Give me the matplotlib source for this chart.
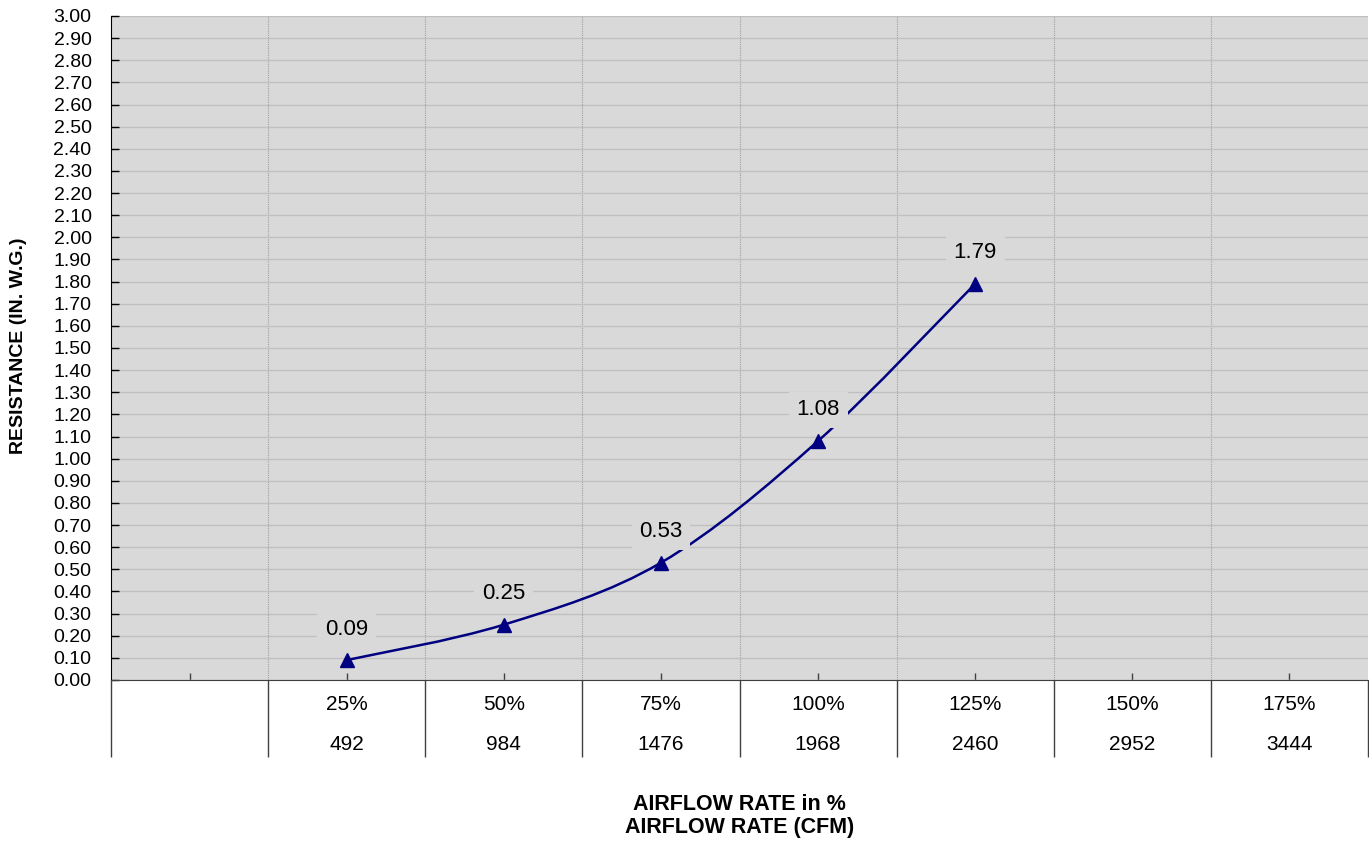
import numpy as np
import matplotlib.pyplot as plt
from matplotlib.path import Path
from matplotlib.patches import PathPatch

plt.rcParams['font.family'] = ['Liberation Sans', 'DejaVu Sans']

# -----------------------------------------------------------------------------
# dados
# -----------------------------------------------------------------------------
pct_labels = ['', '25%', '50%', '75%', '100%', '125%', '150%', '175%']
cfm_labels = ['', '492', '984', '1476', '1968', '2460', '2952', '3444']
point_idx = [1, 2, 3, 4, 5]
resistance = [0.09, 0.25, 0.53, 1.08, 1.79]

bg = '#d9d9d9'
navy = '#000080'

W, H = 1369, 844
fig = plt.figure(figsize=(W / 100, H / 100), dpi=100)
ax = fig.add_axes([111 / W, 1 - 680 / H, (1368 - 111) / W, (680 - 16) / H])
ax.set_facecolor(bg)

ax.set_xlim(-0.5, len(pct_labels) - 0.5)
ax.set_ylim(0, 3.0)

# eixo y
yt = np.round(np.arange(0, 3.001, 0.1), 2)
ax.set_yticks(yt)
ax.set_yticklabels([f'{v:.2f}' for v in yt], fontsize=14)
ax.tick_params(axis='y', direction='in', length=6, width=1, pad=14, colors='black')

# eixo x: ticks no centro, grade nas divisões
ax.set_xticks(np.arange(len(pct_labels)))
ax.set_xticklabels([])
ax.set_xticks(np.arange(0.5, len(pct_labels) - 0.5, 1), minor=True)
ax.tick_params(axis='x', which='major', direction='in', length=5, width=1, color='#404040')
ax.tick_params(axis='x', which='minor', length=0)

ax.grid(axis='y', which='major', color='#c0c0c0', linewidth=1.0)
ax.grid(axis='x', which='minor', color='#a0a0a0', linewidth=0.8, linestyle=(0, (1, 1)))
ax.set_axisbelow(True)

for s in ['top', 'right']:
    ax.spines[s].set_visible(False)
ax.spines['left'].set_color('black')
ax.spines['bottom'].set_color('#404040')

# linha suavizada (Bezier estilo Excel) pelos pontos
pts = np.column_stack([point_idx, resistance]).astype(float)
verts = [pts[0]]
codes = [Path.MOVETO]
n = len(pts)
for i in range(n - 1):
    p0 = pts[i - 1] if i > 0 else pts[i]
    p1 = pts[i]
    p2 = pts[i + 1]
    p3 = pts[i + 2] if i + 2 < n else pts[i + 1]
    c1 = p1 + (p2 - p0) / 6.0
    c2 = p2 - (p3 - p1) / 6.0
    verts += [c1, c2, p2]
    codes += [Path.CURVE4] * 3
ax.add_patch(PathPatch(Path(verts, codes), fill=False, edgecolor=navy,
                       linewidth=1.8, zorder=3))
ax.plot(point_idx, resistance, linestyle='none', marker='^', markersize=10.5,
        color=navy, zorder=4)

# rótulos de dados
for x, v in zip(point_idx, resistance):
    ax.annotate(f'{v:.2f}', (x, v), xytext=(0, 31), textcoords='offset pixels',
                ha='center', va='center', fontsize=16, zorder=5,
                bbox=dict(boxstyle='square,pad=0.35', fc=bg, ec='none'))

# tabela de categorias abaixo do eixo
trans = ax.get_xaxis_transform()
ax.vlines(np.arange(-0.5, len(pct_labels)), -77 / 664, 0, transform=trans,
          clip_on=False, color='#404040', linewidth=1)
for i, (p, c) in enumerate(zip(pct_labels, cfm_labels)):
    ax.text(i, -25 / 664, p, transform=trans, ha='center', va='center', fontsize=15)
    ax.text(i, -65 / 664, c, transform=trans, ha='center', va='center', fontsize=15)

# títulos dos eixos
ax.text(0.5, -136 / 664, 'AIRFLOW RATE in %\nAIRFLOW RATE (CFM)', transform=ax.transAxes,
        ha='center', va='center', fontsize=15.5, fontweight='bold', linespacing=1.15)
fig.text(19 / W, 1 - 346 / H, 'RESISTANCE (IN. W.G.)', rotation=90, ha='center',
         va='center', fontsize=14, fontweight='bold')

fig.savefig('out.png', dpi=100, facecolor='white')
